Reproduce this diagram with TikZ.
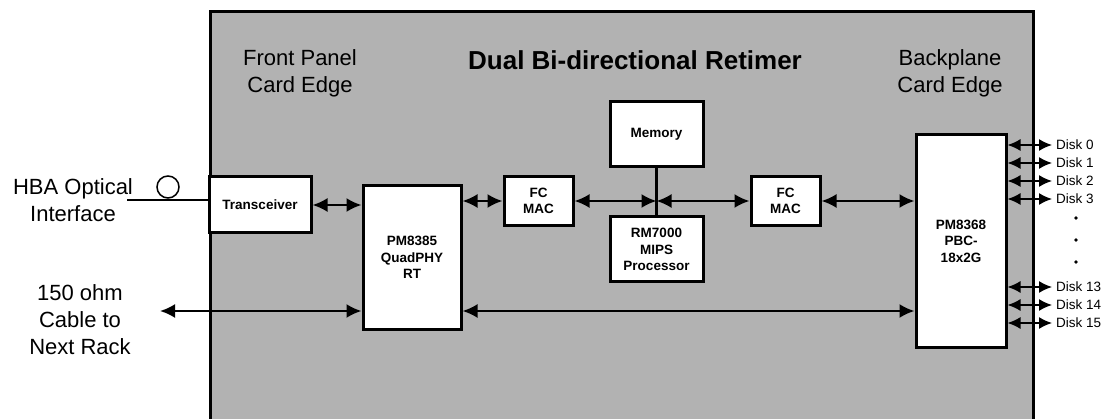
\documentclass[tikz,border=0pt]{standalone}
\usepackage{fontspec}
\setmainfont{Liberation Sans}
\usepackage{xcolor}
\usepackage{tikz}
\usetikzlibrary{arrows.meta}
\usetikzlibrary{calc,positioning}
\definecolor{panelgray}{rgb}{0.7,0.7,0.7}
\tikzset{%
  % Specifications for style of nodes:
  chip/.style = {rectangle, draw=black, line width=3pt, fill=white,
    inner sep=0pt, align=center,
    font=\fontsize{13.5}{16.5}\selectfont\bfseries},
  plain/.style = {align=center, inner sep=0pt,
    font=\fontsize{22}{27}\selectfont},
  bus/.style = {line width=2.2pt,
    {Latex[width=14pt,length=15pt]}-{Latex[width=14pt,length=15pt]}},
  disklink/.style = {line width=1.5pt,
    {Latex[width=12pt,length=13pt]}-{Latex[width=12pt,length=13pt]}},
}

\begin{document}
\begin{tikzpicture}[x=1pt, y=-1pt]
        \useasboundingbox (0,0) rectangle (1115,419);
        % Specification of nodes (position, etc.)
        \node(Panel)[draw, line width=3pt, fill=panelgray, anchor=north west,
          minimum width=823pt, minimum height=440pt] at (209,10) {};
        \node(Title)[plain, font=\fontsize{26}{30}\selectfont\bfseries] at (635,60) {Dual Bi-directional Retimer};
        \node(Front)[plain] at (300,73) {Front Panel\\Card Edge};
        \node(Back)[plain] at (950,73) {Backplane\\Card Edge};
        \node(Trx)[chip, minimum width=102pt, minimum height=56pt] at (260,205) {Transceiver};
        \node(Quad)[chip, minimum width=98pt, minimum height=143pt] at (412,257.5) {PM8385\\QuadPHY\\RT};
        \node(Mac1)[chip, minimum width=69pt, minimum height=49pt] at (538.5,201) {FC\\MAC};
        \node(Mem)[chip, minimum width=93pt, minimum height=65pt] at (656.5,134.5) {Memory};
        \node(Cpu)[chip, minimum width=93pt, minimum height=65pt] at (656.5,249.5) {RM7000\\MIPS\\Processor};
        \node(Mac2)[chip, minimum width=69pt, minimum height=49pt] at (785.5,201) {FC\\MAC};
        \node(Pbc)[chip, minimum width=90pt, minimum height=212pt] at (961,241) {PM8368\\PBC-\\18x2G};
        \node(Hba)[plain] at (73,200) {HBA Optical\\Interface};
        \node(Fiber)[circle, draw, line width=1.5pt, minimum size=22pt, inner sep=0pt] at (168,187) {};
        \node(Cable)[plain] at (80,320) {150 ohm\\Cable to\\Next Rack};
        \coordinate(FiberEnd) at (127,200);
        \coordinate(CableEnd) at (160,311);
        \coordinate(Hub) at (656.5,201);
        \draw[line width=2.2pt](FiberEnd) -- (FiberEnd -| Trx.west);
        \draw[bus](Trx.east) -- (Trx.east -| Quad.west);
        \draw[bus](CableEnd) -- (CableEnd -| Quad.west);
        \draw[bus](Quad.east |- CableEnd) -- (Pbc.west |- CableEnd);
        \draw[bus](Quad.east |- Mac1.west) -- (Mac1.west);
        \draw[bus](Mac1.east) -- (Hub);
        \draw[bus](Hub) -- (Mac2.west);
        \draw[bus](Mac2.east) -- (Mac2.east -| Pbc.west);
        \draw[line width=2.2pt](Mem.south) -- (Cpu.north);
        % disks on the backplane
        \foreach \y/\name in {145/0,163/1,181/2,199/3,287/13,305/14,323/15}{
          \coordinate(DiskEnd\name) at (1052,\y);
          \draw[disklink](Pbc.east |- DiskEnd\name) -- (DiskEnd\name);
          \node(Disk\name)[anchor=west, inner sep=0pt,
            font=\fontsize{13.5}{16}\selectfont] at (1056,\y) {Disk \name};
        }
        \foreach \y in {218,240,262}
          \node(Dot\y)[circle, fill=black, inner sep=0pt, minimum size=3.6pt] at (1076,\y) {};
    \end{tikzpicture}
\end{document}
